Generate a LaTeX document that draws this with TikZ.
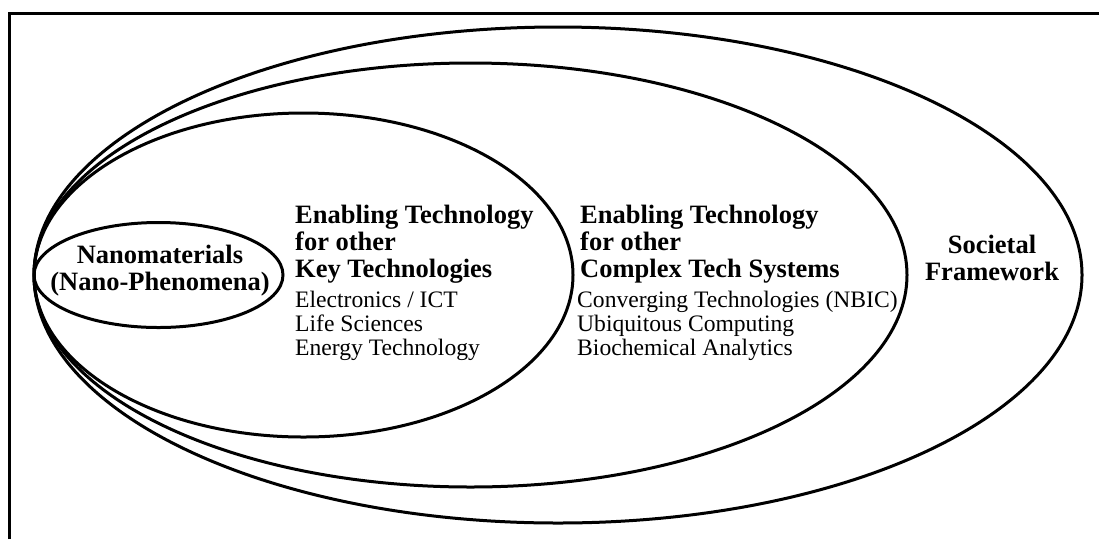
\documentclass[tikz,border=0pt]{standalone}
\usepackage{fontspec}
\setmainfont{Liberation Serif}
\tikzset{
  ring/.style={line width=3pt},
  head/.style={font=\fontsize{26.5}{27}\selectfont\bfseries,inner sep=0pt,align=left},
  items/.style={font=\fontsize{23.6}{24}\selectfont,inner sep=0pt,align=left},
}
\begin{document}
\begin{tikzpicture}[x=1pt,y=-1pt]
\useasboundingbox (0,0) rectangle (1099,539);
% frame, only top and left edges are visible
\draw[line width=3pt] (9,539)--(9,13)--(1099,13);
% nested rings, all touching at the left
\draw[ring] (558,275) ellipse [x radius=524pt,y radius=248pt];
\draw[ring] (470.5,275) ellipse [x radius=436.5pt,y radius=212pt];
\draw[ring] (303.5,275) ellipse [x radius=269.5pt,y radius=162pt];
\draw[ring] (158.5,275) ellipse [x radius=124.5pt,y radius=52.5pt];
% texts
\node (nano) [head,align=center,anchor=north] at (160,245) {Nanomaterials\\(Nano-Phenomena)};
\node (keyhead) [head,anchor=north west] at (295,205) {Enabling Technology\\for other\\Key Technologies};
\node (keylist) [items,anchor=north west] at (295,291) {Electronics / ICT\\Life Sciences\\Energy Technology};
\node (syshead) [head,anchor=north west] at (580,205) {Enabling Technology\\for other\\Complex Tech Systems};
\node (syslist) [items,anchor=north west] at (577,291) {Converging Technologies (NBIC)\\Ubiquitous Computing\\Biochemical Analytics};
\node (society) [head,align=center,anchor=north] at (992,235) {Societal\\Framework};
\end{tikzpicture}
\end{document}
